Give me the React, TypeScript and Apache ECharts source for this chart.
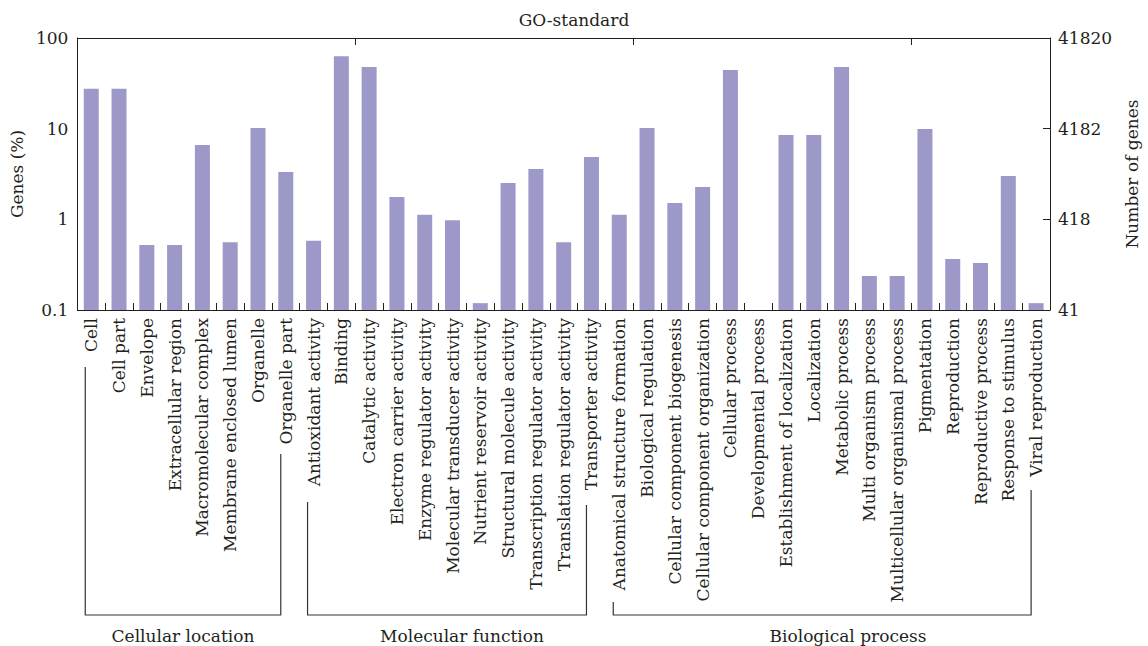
import React, { useEffect, useRef } from "react";
import * as echarts from "echarts";

const categories = [
  "Cell", "Cell part", "Envelope", "Extracellular region", "Macromolecular complex",
  "Membrane enclosed lumen", "Organelle", "Organelle part",
  "Antioxidant activity", "Binding", "Catalytic activity", "Electron carrier activity",
  "Enzyme regulator activity", "Molecular transducer activity", "Nutrient reservoir activity",
  "Structural molecule activity", "Transcription regulator activity",
  "Translation regulator activity", "Transporter activity",
  "Anatomical structure formation", "Biological regulation", "Cellular component biogenesis",
  "Cellular component organization", "Cellular process", "Developmental process",
  "Establishment of localization", "Localization", "Metabolic process",
  "Multi organism process", "Multicellular organismal process", "Pigmentation",
  "Reproduction", "Reproductive process", "Response to stimulus", "Viral reproduction",
];

const genesPercent: (number | null)[] = [
  27.5, 27.5, 0.52, 0.52, 6.6, 0.56, 10.2, 3.33,
  0.58, 63, 48, 1.76, 1.12, 0.98, 0.119, 2.52, 3.6, 0.56, 4.87,
  1.12, 10.2, 1.51, 2.27, 44.5, null, 8.5, 8.5, 48, 0.237, 0.237, 9.9, 0.365, 0.33, 3.0, 0.119,
];

const leftTickLabels = ["0.1", "1", "10", "100"];
const rightTickLabels = ["41", "418", "4182", "41820"];

const groups = [
  { name: "Cellular location", first: "Cell", last: "Organelle part" },
  { name: "Molecular function", first: "Antioxidant activity", last: "Transporter activity" },
  { name: "Biological process", first: "Anatomical structure formation", last: "Viral reproduction" },
];

const FONT = "DejaVu Serif";
const INK = "#231f20";

export default function App() {
  const ref = useRef<HTMLDivElement>(null);
  useEffect(() => {
    if (!ref.current) return;
    const chart = echarts.init(ref.current, undefined, { renderer: "svg" });
    const idx = (v: number) => Math.round(Math.log10(v)) + 1;
    chart.setOption({
      animation: false,
      textStyle: { fontFamily: FONT },
      title: {
        text: "GO-standard",
        left: "center",
        top: 6,
        textStyle: { fontFamily: FONT, fontSize: 17, fontWeight: "normal", color: INK },
      },
      grid: { left: 74, right: 91, top: 38, bottom: 336 },
      xAxis: [
        {
          type: "category",
          data: categories,
          position: "bottom",
          axisLine: { lineStyle: { color: INK, width: 1 } },
          axisTick: { show: true, inside: true, length: 7, lineStyle: { color: INK } },
          axisLabel: {
            rotate: 90,
            interval: 0,
            margin: 8,
            fontFamily: FONT,
            fontSize: 17,
            color: INK,
          },
        },
        {
          type: "category",
          data: categories,
          position: "top",
          axisLine: { lineStyle: { color: INK, width: 1 } },
          axisTick: { show: true, inside: true, length: 7, lineStyle: { color: INK } },
          axisLabel: { show: false },
        },
      ],
      yAxis: [
        {
          type: "log",
          logBase: 10,
          min: 0.1,
          max: 100,
          startValue: 0.1,
          name: "Genes (%)",
          nameLocation: "middle",
          nameGap: 46,
          nameTextStyle: { fontFamily: FONT, fontSize: 17, color: INK },
          axisLine: { show: true, lineStyle: { color: INK } },
          axisTick: { show: false },
          splitLine: { show: false },
          minorTick: { show: false },
          axisLabel: {
            fontFamily: FONT,
            fontSize: 17,
            color: INK,
            margin: 9,
            formatter: (v: number) => leftTickLabels[idx(v)] ?? "",
          },
        },
        {
          type: "log",
          logBase: 10,
          min: 0.1,
          max: 100,
          position: "right",
          name: "Number of genes",
          nameLocation: "middle",
          nameGap: 73,
          nameTextStyle: { fontFamily: FONT, fontSize: 17, color: INK },
          axisLine: { show: true, lineStyle: { color: INK } },
          axisTick: { show: true, inside: true, length: 7, lineStyle: { color: INK } },
          splitLine: { show: false },
          axisLabel: {
            fontFamily: FONT,
            fontSize: 17,
            color: INK,
            margin: 8,
            formatter: (v: number) => rightTickLabels[idx(v)] ?? "",
          },
        },
      ],
      series: [
        {
          type: "bar",
          data: genesPercent.map((v) => (v == null ? "-" : v)),
          barWidth: 15,
          itemStyle: { color: "#9c99c9" },
          xAxisIndex: 0,
          yAxisIndex: 0,
        },
      ],
    });

    const bracketTops: Record<string, number> = {
      "Cell": 367,
      "Organelle part": 454,
      "Antioxidant activity": 502,
      "Transporter activity": 505,
      "Anatomical structure formation": 602,
      "Viral reproduction": 490,
    };
    const labelCenters = [183, 462, 848];
    const bottomY = 615;
    const graphics: any[] = [];
    groups.forEach((g, gi) => {
      const xl = (chart.convertToPixel({ xAxisIndex: 0 }, g.first) as number) - 6;
      const xr = (chart.convertToPixel({ xAxisIndex: 0 }, g.last) as number) - 5;
      graphics.push({
        type: "polyline",
        shape: {
          points: [
            [xl, bracketTops[g.first]],
            [xl, bottomY],
            [xr, bottomY],
            [xr, bracketTops[g.last]],
          ],
        },
        style: { stroke: "#333", lineWidth: 1.2, fill: null },
      });
      graphics.push({
        type: "text",
        x: labelCenters[gi],
        y: 636,
        style: {
          text: g.name,
          fontFamily: FONT,
          fontSize: 17,
          fill: INK,
          align: "center",
          verticalAlign: "middle",
        },
      });
    });
    chart.setOption({ graphic: graphics });

    return () => chart.dispose();
  }, []);
  return <div ref={ref} style={{ width: 1148, height: 646, position: "absolute", left: 0, top: 0 }} />;
}
